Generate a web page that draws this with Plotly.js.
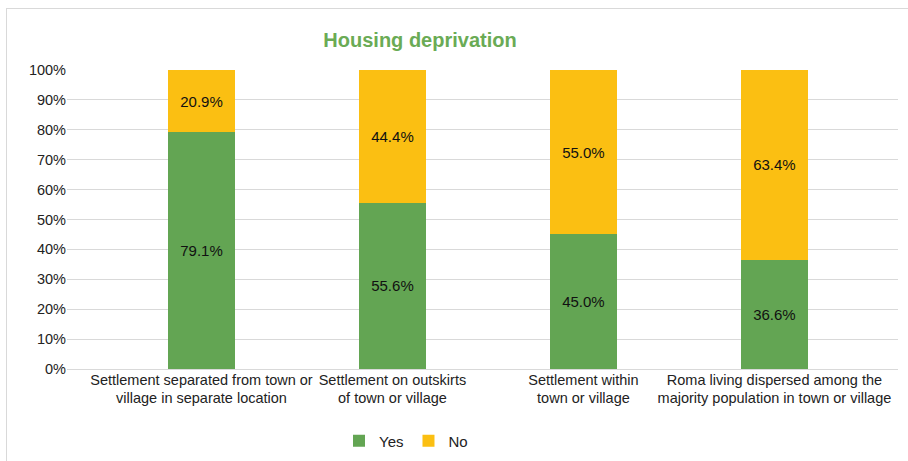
<!DOCTYPE html>
<html>
<head>
<meta charset="utf-8">
<script src="https://cdn.plot.ly/plotly-3.0.1.min.js"></script>
<style>
  html, body { margin: 0; padding: 0; background: #fff; }
  #wrap { position: relative; width: 908px; height: 461px; overflow: hidden; }
  #chart { width: 908px; height: 461px; }
  #frame { position: absolute; left: 6px; top: 8px; width: 920px; height: 470px;
           border: 1.5px solid #D9D9D9; pointer-events: none; box-sizing: border-box; }
</style>
</head>
<body>
<div id="wrap">
  <div id="chart"></div>
  <div id="frame"></div>
</div>
<script>
const categories = [
  "Settlement separated from town or<br>village in separate location",
  "Settlement on outskirts<br>of town or village",
  "Settlement within<br>town or village",
  "Roma living dispersed among the<br>majority population in town or village"
];
const yesValues = [79.1, 55.6, 45.0, 36.6];
const noValues = [20.9, 44.4, 55.0, 63.4];
const seriesNames = ["Yes", "No"];
const yTickVals = [0, 10, 20, 30, 40, 50, 60, 70, 80, 90, 100];
const yTickText = yTickVals.map(v => v + "%");

const FONT = "Liberation Sans, Arial, sans-serif";
const labelFont = { family: FONT, size: 15, color: "#111" };

const traces = [
  {
    type: "bar", name: seriesNames[0], x: categories, y: yesValues,
    marker: { color: "#63A553" },
    texttemplate: "%{y:.1f}%", textposition: "inside", insidetextanchor: "middle",
    textfont: labelFont, textangle: 0, hoverinfo: "skip"
  },
  {
    type: "bar", name: seriesNames[1], x: categories, y: noValues,
    marker: { color: "#FBBF12" },
    texttemplate: "%{y:.1f}%", textposition: "inside", insidetextanchor: "middle",
    textfont: labelFont, textangle: 0, hoverinfo: "skip"
  }
];

const layout = {
  width: 908, height: 461,
  margin: { l: 67, r: 10, t: 70, b: 92 },
  paper_bgcolor: "#fff", plot_bgcolor: "#fff",
  barmode: "stack",
  bargap: 0.649,
  title: {
    text: "<b>Housing deprivation</b>",
    font: { family: FONT, size: 20, color: "#6AAB55" },
    x: 420 / 908, xanchor: "center", xref: "container",
    y: 1 - 40 / 461, yanchor: "middle", yref: "container"
  },
  xaxis: {
    type: "category",
    range: [-0.704, 3.647],
    showgrid: false, showline: false, zeroline: false,
    ticks: "", tickfont: { family: FONT, size: 14.5, color: "#222" }, tickangle: 0,
    automargin: false, fixedrange: true
  },
  yaxis: {
    range: [0, 100],
    tickmode: "array", tickvals: yTickVals, ticktext: yTickText,
    showgrid: true, gridcolor: "#D9D9D9", gridwidth: 1,
    zeroline: true, zerolinecolor: "#D9D9D9", zerolinewidth: 1,
    showline: false, ticks: "",
    tickfont: { family: FONT, size: 14.5, color: "#222" },
    automargin: false, fixedrange: true
  },
  showlegend: true,
  legend: {
    orientation: "h", x: 406 / 908, xanchor: "center", xref: "container",
    y: 1 - 441 / 461, yanchor: "middle", yref: "container",
    font: { family: FONT, size: 15, color: "#222" },
    traceorder: "normal", itemwidth: 30, tracegroupgap: 0
  }
};

Plotly.newPlot("chart", traces, layout, { displayModeBar: false, staticPlot: true });
</script>
</body>
</html>
